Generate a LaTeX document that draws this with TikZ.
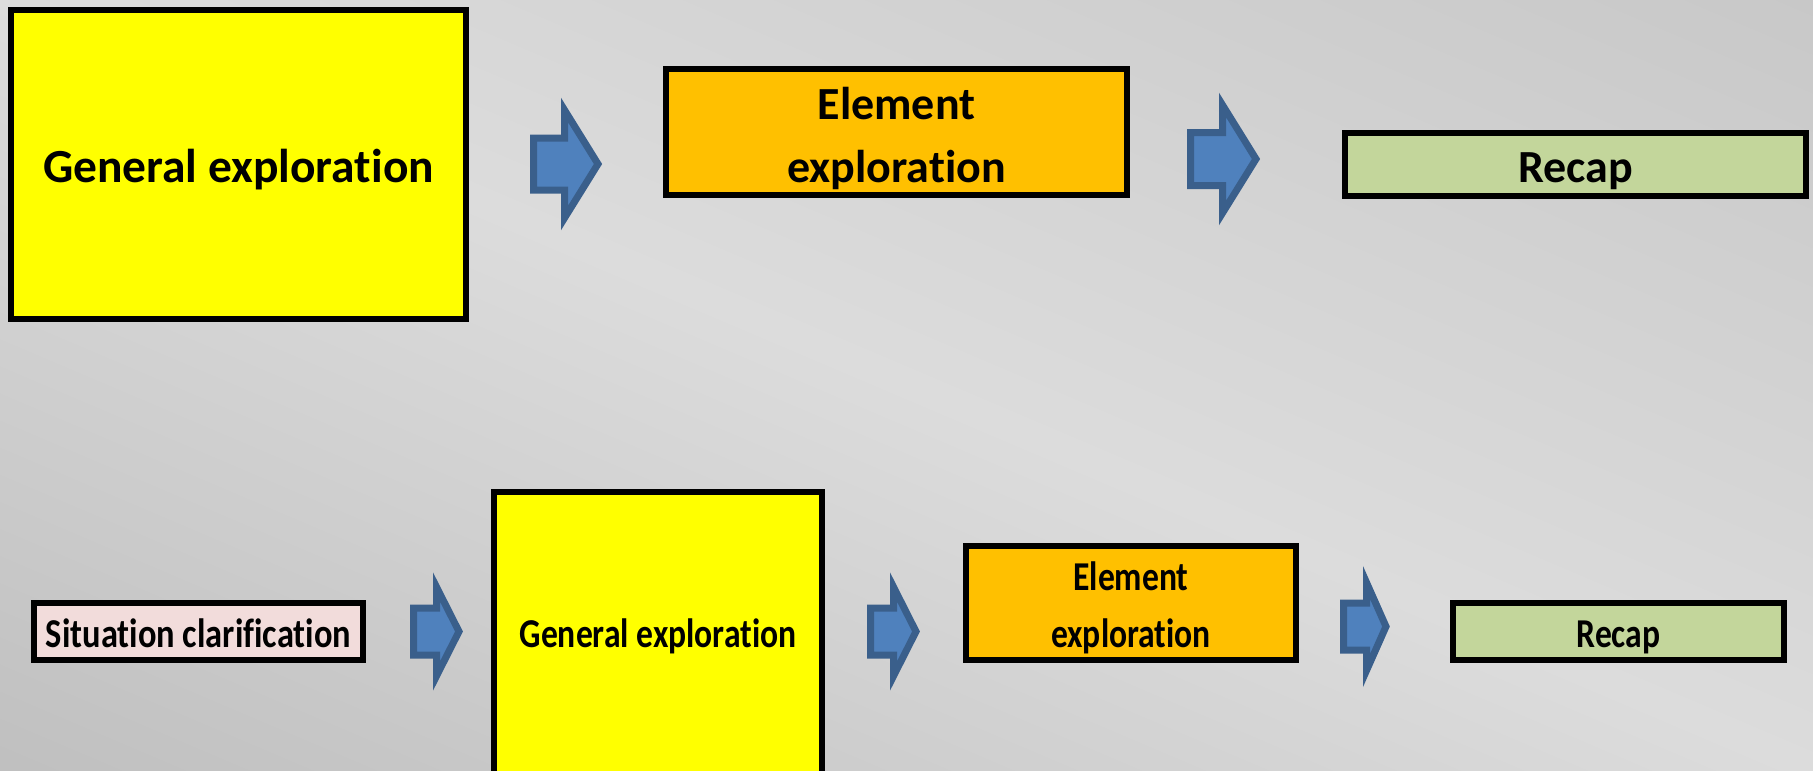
\documentclass[tikz,border=0pt]{standalone}
\usepackage{fontspec}
\setmainfont{Carlito}[Ligatures=NoCommon]
\newfontfamily\condfont{Carlito}[FakeStretch=0.82, Ligatures=NoCommon]
\definecolor{bgdark}{HTML}{B4B4B4}
\definecolor{bglight}{HTML}{DCDCDC}
\definecolor{bgmid}{HTML}{C0C0C0}
\definecolor{boxyellow}{HTML}{FFFF00}
\definecolor{boxorange}{HTML}{FFC000}
\definecolor{boxgreen}{HTML}{C3D69B}
\definecolor{boxpink}{HTML}{F2DCDB}
\definecolor{arrowfill}{HTML}{4F81BD}
\definecolor{arrowline}{HTML}{3A5F8B}
\pgfdeclarehorizontalshading{bgshade}{100bp}{color(0bp)=(bgdark); color(50bp)=(bglight); color(100bp)=(bgmid)}
\tikzset{
  box/.style={draw=black, line width=6pt, rectangle, inner sep=0pt, align=center, text=black},
  bigtext/.style={font=\bfseries\fontsize{46}{63}\selectfont},
  smalltext/.style={font=\condfont\bfseries\fontsize{41}{57}\selectfont},
  barrow/.style={draw=arrowline, fill=arrowfill, line width=7pt, line join=miter, miter limit=20}
}
\newcommand\blockarrow[7]{%
  \draw[barrow] ({#1+3.5},{#4-#5+3.5}) -- ({#2+3.5},{#4-#5+3.5}) -- ({#2+3.5},{#4-#6+#7})
   -- ({#3-4},{#4}) -- ({#2+3.5},{#4+#6-#7}) -- ({#2+3.5},{#4+#5-3.5}) -- ({#1+3.5},{#4+#5-3.5}) -- cycle;}
\begin{document}
\begin{tikzpicture}[x=1pt, y=-1pt]
\useasboundingbox (0,0) rectangle (1813,771);
\begin{scope}[transform canvas={xscale=2.351492}]
  \shade[shading=bgshade, shading angle=45] (0,0) rectangle (771,771);
\end{scope}
\clip (0,0) rectangle (1813,771);
% top row
\node[box, font=\bfseries\fontsize{47.5}{63}\selectfont, fill=boxyellow, minimum width=455pt, minimum height=309pt, text height=35pt, text depth=0pt] (G1) at (238.5,164.5) {General exploration};
\node[box, bigtext, fill=boxorange, minimum width=461pt, minimum height=126pt, text height=100pt, text depth=0pt] (E1) at (896.5,132) {Element\\exploration};
\node[box, bigtext, fill=boxgreen, minimum width=461pt, minimum height=63pt, text height=35pt, text depth=0pt] (R1) at (1575.5,164.5) {Recap};
\blockarrow{530}{561}{602}{164}{29.5}{66}{12}
\blockarrow{1187}{1219}{1260}{159}{30}{66}{12}
% bottom row
\node[box, smalltext, fill=boxpink, minimum width=329pt, minimum height=57pt, text height=31pt, text depth=0pt] (S2) at (198.5,631.5) {\addfontfeature{FakeStretch=0.84}Situation clarification};
\node[box, smalltext, fill=boxyellow, minimum width=328pt, minimum height=284pt, text height=26pt, text depth=0pt] (G2) at (658,634) {General exploration};
\node[box, smalltext, fill=boxorange, minimum width=330pt, minimum height=114pt, text height=88pt, text depth=0pt] (E2) at (1131,603) {Element\\exploration};
\node[box, smalltext, fill=boxgreen, minimum width=331pt, minimum height=57pt, text height=31pt, text depth=0pt] (R2) at (1618.5,631.5) {Recap};
\blockarrow{410}{433}{463}{631.5}{27}{59.5}{15}
\blockarrow{867}{890}{920}{631.5}{27}{59.5}{15}
\blockarrow{1340}{1363}{1390}{626.5}{27}{59}{15}
\end{tikzpicture}
\end{document}
